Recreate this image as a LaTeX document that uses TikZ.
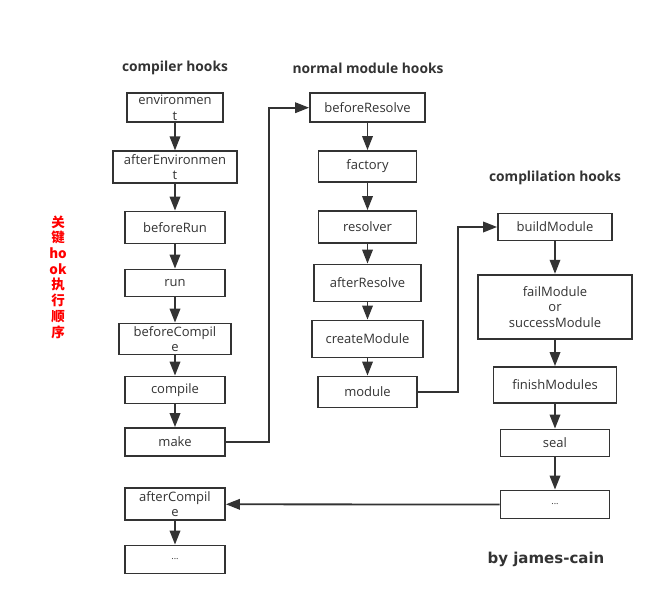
\documentclass[tikz,border=0pt]{standalone}
\usepackage{fontspec}
\setmainfont{Open Sans}
\newfontfamily\cjk{Noto Sans CJK SC}
\newfontfamily\sig{DejaVu Sans}
\usetikzlibrary{arrows.meta}
\definecolor{ink}{HTML}{333333}
\definecolor{redc}{HTML}{FF0000}
\begin{document}
\begin{tikzpicture}[x=1pt,y=-1pt,
  box/.style={draw=ink, line width=1.8pt, text=ink, font=\fontsize{13}{15.5}\selectfont,
    align=center, inner sep=0pt},
  flow/.style={draw=ink, line width=1.8pt, -{Triangle[length=14pt,width=10.5pt]}},
  title/.style={text=ink, font=\bfseries\fontsize{13.8}{15}\selectfont, inner sep=0pt}]
\useasboundingbox[fill=white] (0,0) rectangle (667,611);

% titles
\node[title] (t1) at (175,68) {compiler hooks};
\node[title] (t2) at (368,68) {normal module hooks};
\node[title] (t3) at (555,178) {complilation hooks};

% side label
\node[text=redc, font=\cjk\bfseries\fontsize{13.5}{15.7}\selectfont, align=center, inner sep=0pt]
  (side) at (58,277) {关\\键\\ho\\ok\\执\\行\\顺\\序};

% compiler hooks
\node[box, minimum width=96, minimum height=29] (env) at (175,107.7) {environmen\\t};
\node[box, minimum width=124, minimum height=32] (aenv) at (175,167.3) {afterEnvironmen\\t};
\node[box, minimum width=100, minimum height=32] (brun) at (175,227.5) {beforeRun};
\node[box, minimum width=100, minimum height=27] (run) at (175,283) {run};
\node[box, minimum width=112, minimum height=31] (bcomp) at (175,339) {beforeCompil\\e};
\node[box, minimum width=100, minimum height=27] (comp) at (175,390) {compile};
\node[box, minimum width=100, minimum height=28] (make) at (175,442) {make};
\node[box, minimum width=100, minimum height=32] (acomp) at (175,504.3) {afterCompil\\e};
\node[box, minimum width=100, minimum height=28, font=\fontsize{9}{11}\selectfont] (d1) at (175,559.5) {...};

% normal module hooks
\node[box, minimum width=115, minimum height=29] (bres) at (367.5,107.7) {beforeResolve};
\node[box, minimum width=98, minimum height=31] (fact) at (367.5,166.5) {factory};
\node[box, minimum width=98, minimum height=32] (resv) at (367.5,227) {resolver};
\node[box, minimum width=107, minimum height=37] (ares) at (367.5,283) {afterResolve};
\node[box, minimum width=111, minimum height=37] (cmod) at (367.5,339) {createModule};
\node[box, minimum width=99, minimum height=31] (mod) at (367.5,392) {module};

% compilation hooks
\node[box, minimum width=114, minimum height=27] (bmod) at (555,227) {buildModule};
\node[box, minimum width=154, minimum height=64] (fmod) at (555,306.7) {failModule\\or\\successModule};
\node[box, minimum width=123, minimum height=36] (fin) at (555,385) {finishModules};
\node[box, minimum width=109, minimum height=27] (seal) at (555,443) {seal};
\node[box, minimum width=109, minimum height=28, font=\fontsize{9}{11}\selectfont] (d2) at (555,504.5) {...};

% arrows
\draw[flow] (env) -- (aenv);
\draw[flow] (aenv) -- (brun);
\draw[flow] (brun) -- (run);
\draw[flow] (run) -- (bcomp);
\draw[flow] (bcomp) -- (comp);
\draw[flow] (comp) -- (make);
\draw[flow] (acomp) -- (d1);

\draw[flow] (bres) -- (fact);
\draw[flow] (fact) -- (resv);
\draw[flow] (resv) -- (ares);
\draw[flow] (ares) -- (cmod);
\draw[flow] (cmod) -- (mod);

\draw[flow] (bmod) -- (fmod);
\draw[flow] (fmod) -- (fin);
\draw[flow] (fin) -- (seal);
\draw[flow] (seal) -- (d2);

\draw[flow] (make.east) -- ++(43,0) |- (bres.west);
\draw[flow] (mod.east) -- ++(40,0) |- (bmod.west);
\draw[flow] (d2.west) -- (acomp.east);

% signature
\node[text=ink, font=\sig\bfseries\fontsize{15}{17}\selectfont, inner sep=0pt] (by) at (546,559) {by james-cain};
\end{tikzpicture}
\end{document}
